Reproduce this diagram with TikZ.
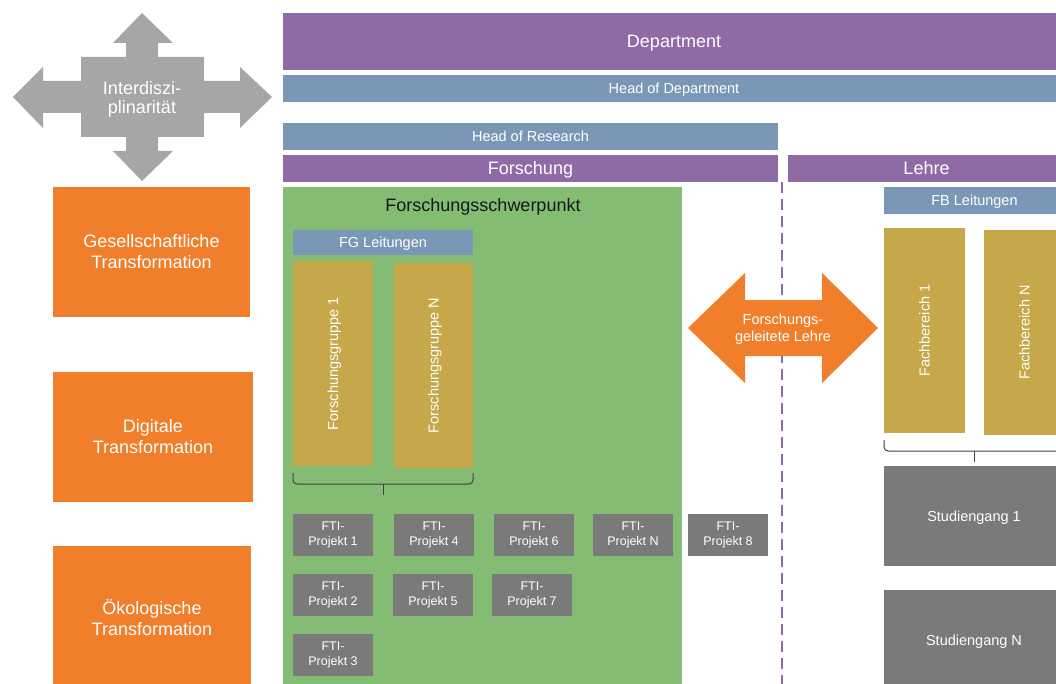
\documentclass[tikz,border=0pt]{standalone}
\usepackage{fontspec}
\setmainfont{Liberation Sans}
\usepackage{tikz}
\usetikzlibrary{positioning}
\definecolor{barpurple}{RGB}{142,106,166}
\definecolor{barblue}{RGB}{122,151,181}
\definecolor{themeorange}{RGB}{241,126,43}
\definecolor{fsgreen}{RGB}{132,188,115}
\definecolor{groupgold}{RGB}{198,168,74}
\definecolor{projgrey}{RGB}{122,122,122}
\definecolor{crossgrey}{RGB}{166,166,166}
\definecolor{bracegrey}{RGB}{64,64,64}
\newcommand\fsbig{\fontsize{18}{21}\selectfont}
\newcommand\fsmid{\fontsize{14.5}{17}\selectfont}
\newcommand\fssmall{\fontsize{12.5}{15}\selectfont}
\tikzset{
  box/.style={inner sep=0pt, outer sep=0pt, align=center, text=white},
  bigline/.style={font=\fsbig, text height=12.9pt, text depth=0pt},
  midline/.style={font=\fsmid, text height=10.4pt, text depth=0pt},
  purplebar/.style={box, bigline, fill=barpurple, minimum height=27pt},
  bluebar/.style={box, midline, fill=barblue, minimum height=27pt},
  themebox/.style={box, fill=themeorange, font=\fsbig},
  groupbox/.style={box, midline, fill=groupgold, rotate=90, minimum width=205pt, minimum height=80pt},
  fti/.style={box, fill=projgrey, minimum width=80pt, minimum height=42pt, font=\fssmall},
  studbox/.style={box, midline, fill=projgrey, minimum width=180pt, minimum height=100pt},
  brace line/.style={draw=bracegrey, line width=1pt, rounded corners=4pt},
}

\begin{document}
\begin{tikzpicture}[x=1pt,y=-1pt]
  \clip (0,0) rectangle (1056,684);
  % Interdisziplinaritaet
  \fill[crossgrey] (142,13) -- (173,43) -- (158,43) -- (158,57) -- (204,57) -- (204,81)
    -- (240,81) -- (240,67) -- (272,97) -- (240,128) -- (240,113) -- (204,113) -- (204,137)
    -- (158,137) -- (158,151) -- (173,151) -- (142,181) -- (113,151) -- (126,151) -- (126,137)
    -- (81,137) -- (81,113) -- (43,113) -- (43,128) -- (13,97) -- (43,67) -- (43,81)
    -- (81,81) -- (81,57) -- (126,57) -- (126,43) -- (113,43) -- cycle;
  \node[box, font=\fontsize{18}{19}\selectfont] (inter) at (142,99.5) {Interdiszi-\\plinarität};

  \node[purplebar, minimum width=782pt, minimum height=57pt] (dept) at (674,41.5) {Department};
  \node[bluebar, minimum width=782pt] (hod) at (674,88.5) {Head of Department};
  \node[bluebar, minimum width=495pt] (hor) at (530.5,136.5) {Head of Research};
  \node[purplebar, minimum width=495pt] (forsch) at (530.5,168.5) {Forschung};
  \node[purplebar, minimum width=277pt] (lehre) at (926.5,168.5) {Lehre};

  \node[themebox, minimum width=197pt, minimum height=130pt] (ges) at (151.5,252) {Gesellschaftliche\\Transformation};
  \node[themebox, minimum width=200pt, minimum height=130pt] (dig) at (153,437) {Digitale\\Transformation};
  \node[themebox, minimum width=198pt, minimum height=144pt] (oko) at (152,618) {Ökologische\\Transformation};

  % Forschung
  \node[box, fill=fsgreen, minimum width=399pt, minimum height=510pt] (fsp) at (482.5,442) {};
  \node[font=\fsbig, text=black!90, inner sep=0pt, anchor=base] (fsp_t) at (483,212) {Forschungsschwerpunkt};
  \node[bluebar, minimum width=180pt, minimum height=25pt] (fgl) at (383,242.5) {FG Leitungen};
  \node[groupbox] (fg1) at (333,363.5) {Forschungsgruppe 1};
  \node[groupbox, minimum height=79pt] (fgN) at (433.5,365.5) {Forschungsgruppe N};
  \coordinate (fgb_l) at ([yshift=-7pt]fg1.west -| fgl.west);
  \coordinate (fgb_r) at (fgb_l -| fgl.east);
  \coordinate (fgb_m) at (fgb_l -| fgl.center);
  \draw[brace line] (fgb_l) -- ++(0,11) -- ([yshift=-11pt]fgb_r) -- (fgb_r);
  \draw[brace line] ([yshift=-11pt]fgb_m) -- ++(0,11);

  \node[fti] (fti_1) at (333,535) {FTI-\\Projekt 1};
  \node[fti] (fti_4) [right=21pt of fti_1] {FTI-\\Projekt 4};
  \node[fti] (fti_6) [right=20pt of fti_4] {FTI-\\Projekt 6};
  \node[fti] (fti_N) [right=19pt of fti_6] {FTI-\\Projekt N};
  \node[fti] (fti_8) [right=15pt of fti_N] {FTI-\\Projekt 8};
  \node[fti] (fti_2) [below=18pt of fti_1] {FTI-\\Projekt 2};
  \node[fti] (fti_5) [right=20pt of fti_2] {FTI-\\Projekt 5};
  \node[fti] (fti_7) [right=19pt of fti_5] {FTI-\\Projekt 7};
  \node[fti] (fti_3) [below=18pt of fti_2] {FTI-\\Projekt 3};

  % Trennlinie und forschungsgeleitete Lehre
  \coordinate (split_top) at (782,182);
  \coordinate (split_bot) at (782,684);
  \draw[barpurple, line width=2.5pt, dash pattern=on 11pt off 6pt] (split_top) -- (split_bot);
  \fill[themeorange] (688,328) -- (745,273) -- (745,300) -- (822,300) -- (822,273) -- (878,328)
    -- (822,383) -- (822,356) -- (745,356) -- (745,383) -- cycle;
  \node[box, font=\fsmid] (fgl_t) at (783,329) {Forschungs-\\geleitete Lehre};

  % Lehre
  \node[bluebar, minimum width=181pt] (fbl) at (974.5,200.5) {FB Leitungen};
  \node[groupbox, minimum height=81pt] (fb1) at (924.5,330.5) {Fachbereich 1};
  \node[groupbox, minimum height=81pt] (fbN) at (1024.5,332.5) {Fachbereich N};
  \coordinate (fbb_l) at ([yshift=-7pt]fb1.west -| fbl.west);
  \coordinate (fbb_r) at (fbb_l -| fbl.east);
  \coordinate (fbb_m) at (fbb_l -| fbl.center);
  \draw[brace line] (fbb_l) -- ++(0,11) -- ([yshift=-11pt]fbb_r) -- (fbb_r);
  \draw[brace line] ([yshift=-11pt]fbb_m) -- ++(0,11);
  \node[studbox] (stud1) at (974,516) {Studiengang 1};
  \node[studbox] (studN) at (974,640) {Studiengang N};
\end{tikzpicture}
\end{document}
